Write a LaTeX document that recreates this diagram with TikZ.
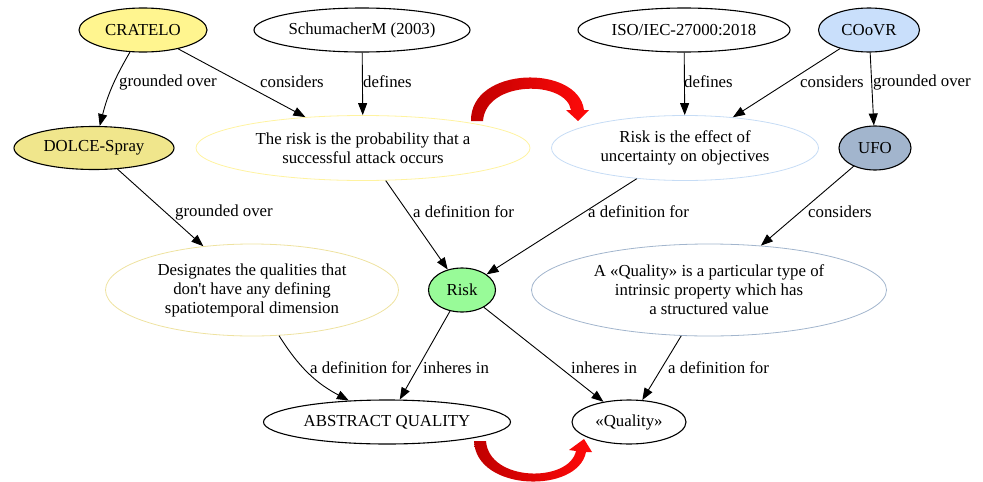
\documentclass[tikz,border=0pt]{standalone}
\usepackage{fontspec}
\setmainfont{Liberation Serif}[Ligatures=TeXOff]
\usetikzlibrary{shapes.geometric,arrows.meta}

\definecolor{cratelofill}{HTML}{FFF58F}
\definecolor{dolcefill}{HTML}{F0E68C}
\definecolor{coovrfill}{HTML}{C9DFFB}
\definecolor{ufofill}{HTML}{A2B5CD}
\definecolor{riskfill}{HTML}{98FB98}
\definecolor{probline}{HTML}{FFF3A0}
\definecolor{effline}{HTML}{C6DCF5}
\definecolor{desigline}{HTML}{EEE2A0}
\definecolor{qualline}{HTML}{A2B5CD}
\definecolor{rdark}{HTML}{C00000}
\definecolor{rmid}{HTML}{DC2A2A}
\definecolor{rlight}{HTML}{FF0A0A}

\begin{document}
\begin{tikzpicture}[x=1pt,y=-1pt,
  font=\fontsize{16.8}{19}\selectfont,
  nd/.style={ellipse, draw, line width=1.1pt, inner sep=0pt, align=center, minimum height=44pt},
  defn/.style={nd, line width=0.8pt},
  lbl/.style={anchor=west, inner sep=0pt},
  con/.style={draw, line width=0.9pt, -{Triangle[length=12pt,width=9pt]}},
  swoosh/.style={left color=rdark, middle color=rmid, right color=rlight}]
\useasboundingbox (0,0) rectangle (983,482);

% sources
\node[nd, fill=cratelofill, minimum width=128pt] (cratelo) at (143,30) {CRATELO};
\node[nd, minimum width=216pt] (schum) at (362,30) {SchumacherM (2003)};
\node[nd, minimum width=212pt] (iso) at (684,30) {ISO/IEC-27000:2018};
\node[nd, fill=coovrfill, minimum width=101pt] (coovr) at (869,30) {COoVR};

% second row
\node[nd, fill=dolcefill, minimum width=160pt, minimum height=43pt] (dolce) at (94,148) {DOLCE-Spray};
\node[defn, draw=probline, minimum width=334pt, minimum height=65pt] (rprob) at (363,148)
  {The risk is the probability that a\\successful attack occurs};
\node[defn, draw=effline, minimum width=267pt, minimum height=65pt] (reff) at (685,148)
  {Risk is the effect of\\uncertainty on objectives};
\node[nd, fill=ufofill, minimum width=72pt] (ufo) at (875,148) {UFO};

% third row
\node[defn, draw=desigline, minimum width=293pt, minimum height=92pt] (desig) at (252,290)
  {Designates the qualities that\\don't have any defining\\spatiotemporal dimension};
\node[nd, fill=riskfill, minimum width=67pt] (risk) at (462,290) {Risk};
\node[defn, draw=qualline, minimum width=355pt, minimum height=92pt] (aqdef) at (709,290)
  {A «Quality» is a particular type of\\intrinsic property which has\\a structured value};

% bottom row
\node[nd, minimum width=247pt] (absq) at (387,422) {ABSTRACT QUALITY};
\node[nd, minimum width=114pt] (qual) at (629,422) {«Quality»};

% connectors
\draw[con] (cratelo) to[bend right=8] (dolce);
\draw[con] (cratelo) -- (rprob);
\draw[con] (schum) -- (rprob);
\draw[con] (iso) -- (reff);
\draw[con] (coovr) -- (reff);
\draw[con] (coovr) -- (ufo);
\draw[con] (dolce) -- (desig);
\draw[con] (rprob) -- (risk);
\draw[con] (reff) -- (risk);
\draw[con] (ufo) -- (aqdef);
\draw[con] (desig) to[bend right=15] (absq);
\draw[con] (risk) -- (absq);
\draw[con] (risk) -- (qual);
\draw[con] (aqdef) -- (qual);

% connector labels
\node[lbl] (l1) at (119,82) {grounded over};
\node[lbl] (l2) at (260,82) {considers};
\node[lbl] (l3) at (363,82) {defines};
\node[lbl] (l4) at (684,82) {defines};
\node[lbl] (l5) at (800,82) {considers};
\node[lbl] (l6) at (873,82) {grounded over};
\node[lbl] (l7) at (175,212) {grounded over};
\node[lbl] (l8) at (413,212) {a definition for};
\node[lbl] (l9) at (588,212) {a definition for};
\node[lbl] (l10) at (808,212) {considers};
\node[lbl] (l11) at (310,368) {a definition for};
\node[lbl] (l12) at (423,368) {inheres in};
\node[lbl] (l13) at (571,368) {inheres in};
\node[lbl] (l14) at (668,368) {a definition for};

% curved red arrows between the paired definitions
\shade[swoosh] (471,121) .. controls (470,66) and (578,64) .. (584,110)
  -- (589,110) -- (578,121) -- (566,110) -- (571,110)
  .. controls (566,80) and (486,80) .. (483,121) -- cycle;
\shade[swoosh] (474,441) .. controls (476,492) and (578,494) .. (586,452)
  -- (592,452) -- (584,439) -- (569,450) -- (576,451)
  .. controls (569,483) and (489,482) .. (486,441) -- cycle;
\end{tikzpicture}
\end{document}
